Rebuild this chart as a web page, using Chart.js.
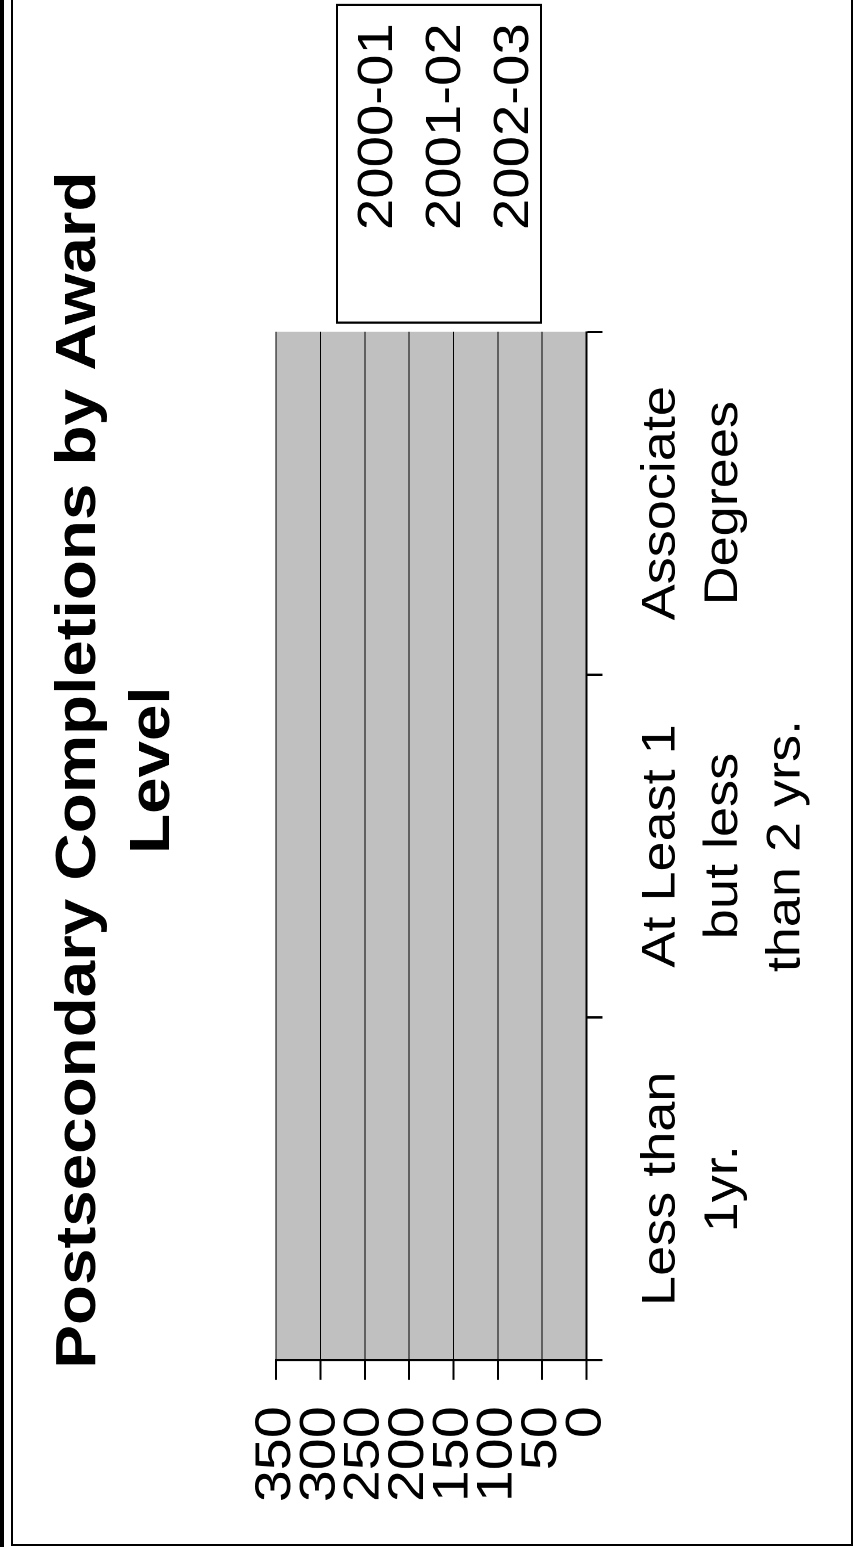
<!DOCTYPE html>
<html>
<head>
<meta charset="utf-8">
<script src="https://cdn.jsdelivr.net/npm/chart.js@4/dist/chart.umd.min.js"></script>
<style>
  html, body { margin: 0; padding: 0; background: #fff; overflow: hidden; }
  body { width: 854px; height: 1547px; position: relative; }
  /* chart is drawn landscape, then turned on its side like the scan */
  #wrap {
    position: absolute; left: 0; top: 0;
    width: 1345px; height: 854px;
    transform-origin: 0 0;
    transform: matrix(0, -1.15, 1, 0, 0, 1547);
  }
  #bar { position: absolute; left: 0; top: 0; width: 4px; height: 1547px; background: #000; }
  #frame { position: absolute; left: 11px; top: -10px; width: 838px; height: 1552px; border: 2px solid #000; }
</style>
</head>
<body>
<div id="wrap"><canvas id="myChart" width="1345" height="854"></canvas></div>
<div id="bar"></div>
<div id="frame"></div>
<script>
const categories = [
  ['Less than', '1yr.'],
  ['At Least 1', 'but less', 'than 2 yrs.'],
  ['Associate', 'Degrees'],
];

const seriesNames = ['2000-01', '2001-02', '2002-03'];

// no bars show up in the picture
const values2000 = [0, 0, 0];
const values2001 = [0, 0, 0];
const values2002 = [0, 0, 0];

const valueTicks = [0, 50, 100, 150, 200, 250, 300, 350];

Chart.defaults.font.family = "'Liberation Sans', Arial, sans-serif";
Chart.defaults.color = '#000';

// gray plot area
const plotBg = {
  id: 'plotBg',
  beforeDraw(chart) {
    const a = chart.chartArea;
    const ctx = chart.ctx;
    ctx.save();
    ctx.fillStyle = '#c0c0c0';
    ctx.fillRect(a.left, a.top, a.right - a.left, a.bottom - a.top);
    ctx.restore();
  }
};

// box round the legend
const legendFrame = {
  id: 'legendFrame',
  afterDraw(chart) {
    const lg = chart.legend;
    const hb = lg.legendHitBoxes;
    if (!hb || !hb.length) return;
    const last = hb[hb.length - 1];
    const ctx = chart.ctx;
    ctx.save();
    ctx.strokeStyle = '#000';
    ctx.lineWidth = 2;
    const x1 = lg.left + 8;
    const x2 = lg.right + 6;
    const y1 = hb[0].top - 17;
    const y2 = last.top + last.height + 2;
    ctx.strokeRect(x1, y1, x2 - x1, y2 - y1);
    ctx.restore();
  }
};

const data = {
  labels: categories,
  datasets: [
    { label: seriesNames[0], data: values2000, backgroundColor: 'rgba(0,0,0,0)', borderColor: 'rgba(0,0,0,0)', borderWidth: 0 },
    { label: seriesNames[1], data: values2001, backgroundColor: 'rgba(0,0,0,0)', borderColor: 'rgba(0,0,0,0)', borderWidth: 0 },
    { label: seriesNames[2], data: values2002, backgroundColor: 'rgba(0,0,0,0)', borderColor: 'rgba(0,0,0,0)', borderWidth: 0 },
  ]
};

const config = {
  type: 'bar',
  data: data,
  plugins: [plotBg, legendFrame],
  options: {
    responsive: false,
    animation: false,
    devicePixelRatio: 2,
    layout: { padding: { left: 16, right: 10, top: 0, bottom: 8 } },
    plugins: {
      title: {
        display: true,
        text: ['Postsecondary Completions by Award', 'Level'],
        font: { size: 57, weight: 'bold', lineHeight: 1.3 },
        color: '#000',
        padding: { top: 42, bottom: 86 }
      },
      legend: {
        position: 'right',
        title: { display: true, text: '', font: { size: 10, lineHeight: 1.2 }, padding: { top: 35, bottom: 0 } },
        labels: {
          font: { size: 49 },
          color: '#000',
          boxWidth: 45,
          padding: 19
        }
      },
      tooltip: { enabled: false }
    },
    scales: {
      x: {
        grid: { display: true, drawOnChartArea: false, drawTicks: true, tickLength: 16, tickWidth: 2, tickColor: '#000', offset: true },
        border: { display: true, color: '#000', width: 2 },
        ticks: { font: { size: 47, lineHeight: 1.33 }, color: '#000', padding: 28, maxRotation: 0, autoSkip: false }
      },
      y: {
        min: valueTicks[0],
        max: valueTicks[valueTicks.length - 1],
        grid: { color: '#000', lineWidth: 1, tickLength: 17, tickWidth: 2, tickColor: '#000' },
        border: { display: true, color: '#000', width: 2 },
        ticks: { stepSize: valueTicks[1] - valueTicks[0], font: { size: 50 }, color: '#000', padding: 23, autoSkip: false }
      }
    }
  }
};

const myChart = new Chart(document.getElementById('myChart'), config);
</script>
</body>
</html>
